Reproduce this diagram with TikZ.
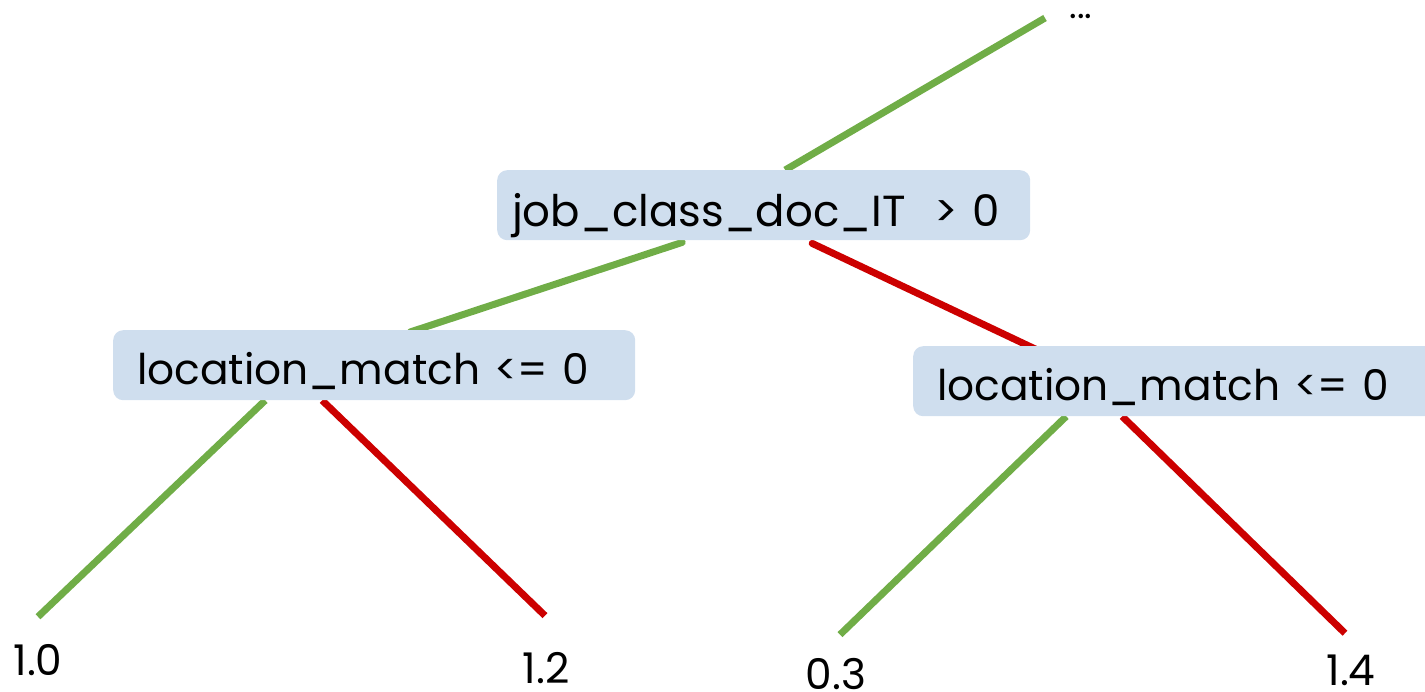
\documentclass[tikz,border=0pt]{standalone}
\usepackage{fontspec}
\setmainfont{Poppins}
\usetikzlibrary{backgrounds}
\definecolor{boxblue}{HTML}{CFDEEE}
\definecolor{yesgreen}{HTML}{70AD47}
\definecolor{nored}{HTML}{CC0000}

\begin{document}
\begin{tikzpicture}[x=1pt,y=-1pt,
  split/.style={fill=boxblue, rounded corners=10pt, anchor=north west,
    inner ysep=0pt, minimum height=70pt, align=left,
    text height=39pt, text depth=0pt,
    font=\fontsize{42.3}{50}\selectfont},
  leaf/.style={inner sep=0pt, anchor=base, text depth=0pt,
    font=\fontsize{42.3}{50}\selectfont},
  yes/.style={draw=yesgreen, line width=7pt},
  no/.style={draw=nored, line width=7pt}]
\useasboundingbox (0,0) rectangle (1425,692);

% split nodes
\node[split, inner xsep=15pt, text width=503pt, text height=43pt,
      font=\fontsize{43.5}{50}\selectfont] (root) at (497,170)
  {job\_class\_doc\_IT\ \ > 0};
\node[split, inner xsep=24pt, text width=474pt] (left) at (113,330)
  {location\_match <= 0};
\node[split, inner xsep=24pt, text width=479pt] (right) at (913,346)
  {location\_match <= 0};

% leaves (placed on their baselines) and the parent above
\node[leaf] (a) at (38,675) {1.0};
\node[leaf] (b) at (546,683) {1.2};
\node[leaf] (c) at (836,689) {0.3};
\node[leaf] (d) at (1351,685) {1.4};
\node[inner sep=0pt, font=\fontsize{36}{40}\selectfont] (up) at (1081,16) {...};
\coordinate (upend) at (1045,18);

% branches, kept under the boxes
\begin{pgfonlayer}{background}
  \draw[yes] ([shift={(21.5,0)}]root.north) -- (upend);
  \draw[yes, line cap=round] ([shift={(-81.5,2)}]root.south) -- ([shift={(36,2)}]left.north);
  \draw[no, line cap=round] ([shift={(48.5,3)}]root.south) -- ([shift={(-141.5,3)}]right.north);
  \draw[yes] ([shift={(-109,0)}]left.south) -- ([shift={(0,-27)}]a.north);
  \draw[no] ([shift={(-52,0)}]left.south) -- ([shift={(-1,-36)}]b.north);
  \draw[yes] ([shift={(-110.5,0)}]right.south) -- ([shift={(4,-23)}]c.north);
  \draw[no] ([shift={(-54.5,0)}]right.south) -- ([shift={(-6,-21)}]d.north);
\end{pgfonlayer}
\end{tikzpicture}
\end{document}
